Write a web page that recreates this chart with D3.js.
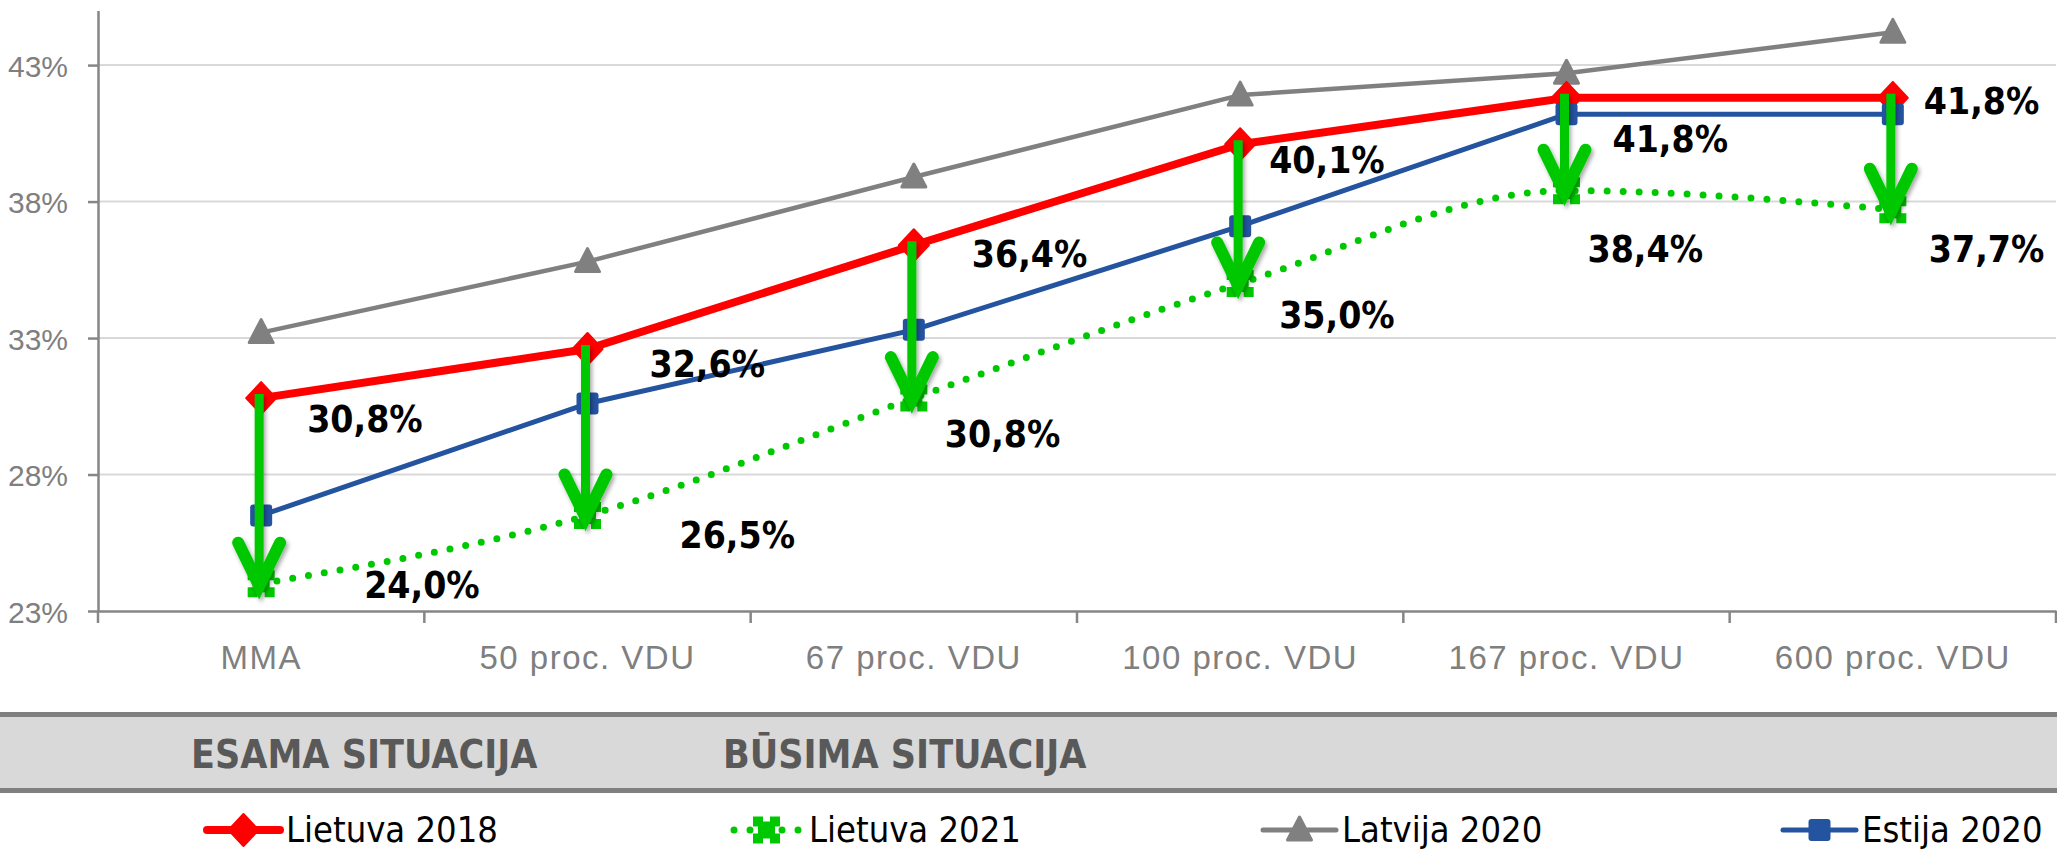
<!DOCTYPE html>
<html>
<head>
<meta charset="utf-8">
<script src="https://cdnjs.cloudflare.com/ajax/libs/d3/7.8.5/d3.min.js"></script>
<style>
  body { margin: 0; background: #fff; }
  svg { display: block; }
  .tick-lbl { font-family: "Liberation Sans", Arial, sans-serif; fill: #7f7f7f; }
  .val { font-family: "DejaVu Sans Condensed", "DejaVu Sans", sans-serif; font-stretch: condensed; font-weight: bold; fill: #000; }
  .leg { font-family: "DejaVu Sans Condensed", "DejaVu Sans", sans-serif; font-stretch: condensed; fill: #000; }
  .sit { font-family: "DejaVu Sans Condensed", "DejaVu Sans", sans-serif; font-stretch: condensed; font-weight: bold; fill: #595959; }
</style>
</head>
<body>
<div id="chart"></div>
<script>
// data
const categories = ["MMA", "50 proc. VDU", "67 proc. VDU", "100 proc. VDU", "167 proc. VDU", "600 proc. VDU"];
const lietuva2018 = [30.8, 32.6, 36.4, 40.1, 41.8, 41.8];
const lietuva2021 = [24.0, 26.5, 30.8, 35.0, 38.4, 37.7];
const latvija2020 = [33.2, 35.8, 38.9, 41.9, 42.7, 44.2];
const estija2020 = [26.5, 30.6, 33.3, 37.1, 41.2, 41.2];
const yTicks = [23, 28, 33, 38, 43];
const seriesNames = ["Lietuva 2018", "Lietuva 2021", "Latvija 2020", "Estija 2020"];
const situationLabels = ["ESAMA SITUACIJA", "BŪSIMA SITUACIJA"];

// hand placed label nudges (dx, dy from the point)
const redShift = [[46, 34], [62, 28], [58, 22], [29, 29], [46, 54], [31, 16]];
const greenShift = [[103, 14], [92, 33], [31, 49], [39, 45], [21, 71], [36, 52]];

const W = 2057, H = 849;
const RED = "#ff0000", GREEN = "#00c800", GREY = "#808080", BLUE = "#2453a0";

const svg = d3.select("#chart").append("svg")
  .attr("width", W)
  .attr("height", H);

const defs = svg.append("defs");
const f = defs.append("filter").attr("id", "shadow")
  .attr("x", "-50%").attr("y", "-20%").attr("width", "200%").attr("height", "140%");
f.append("feDropShadow").attr("dx", 2).attr("dy", 3).attr("stdDeviation", 2)
  .attr("flood-color", "#000").attr("flood-opacity", 0.35);

const x = d3.scaleBand().domain(categories).range([98, 2056]);
const y = d3.scaleLinear().domain([23, 45]).range([611, 10.5]);
const cx = c => x(c) + x.bandwidth() / 2;

// gridlines
svg.append("g").selectAll("line")
  .data(yTicks.slice(1))
  .join("line")
  .attr("x1", 98).attr("x2", 2056)
  .attr("y1", d => y(d)).attr("y2", d => y(d))
  .attr("stroke", "#d9d9d9").attr("stroke-width", 2);

// y axis
const yAxis = d3.axisLeft(y)
  .tickValues(yTicks)
  .tickSize(10)
  .tickSizeOuter(0)
  .tickPadding(20)
  .tickFormat(d => d + "%");
const gy = svg.append("g").attr("transform", "translate(98,0)").call(yAxis);
gy.selectAll("path, line").attr("stroke", "#868686").attr("stroke-width", 2.5);
gy.selectAll("text").attr("class", "tick-lbl").attr("font-size", 30).attr("dy", "0.37em");

// x axis (ticks sit between categories)
const xAxis = d3.axisBottom(x).tickSize(0).tickSizeOuter(0);
const gx = svg.append("g").attr("transform", "translate(0,611)").call(xAxis);
gx.select(".domain").attr("stroke", "#868686").attr("stroke-width", 2.5);
gx.selectAll("text").attr("class", "tick-lbl").attr("font-size", 33)
  .attr("letter-spacing", 1.5).attr("y", 58).attr("dy", 0);
gx.selectAll(".edge")
  .data(categories.map(c => x(c)).concat([x.range()[1]]))
  .join("line")
  .attr("class", "edge")
  .attr("x1", d => d).attr("x2", d => d)
  .attr("y1", 0).attr("y2", 12)
  .attr("stroke", "#868686").attr("stroke-width", 2.5);

const line = d3.line().x((d, i) => cx(categories[i])).y(d => y(d));
const smooth = d3.line().x((d, i) => cx(categories[i])).y(d => y(d)).curve(d3.curveMonotoneX);

// notched square used for the Lietuva 2021 marker
const notched = (s, n, k) => [
  [-s, -s], [-n, -s], [-n, -s + k], [n, -s + k], [n, -s], [s, -s],
  [s, -n], [s - k, -n], [s - k, n], [s, n], [s, s],
  [n, s], [n, s - k], [-n, s - k], [-n, s], [-s, s],
  [-s, n], [-s + k, n], [-s + k, -n], [-s, -n]
];

const markers = {
  triangle: g => g.append("path").attr("d", "M0,-13L12,10L-12,10Z")
    .attr("fill", GREY).attr("stroke", GREY).attr("stroke-width", 3).attr("stroke-linejoin", "round"),
  diamond: g => g.append("path").attr("d", "M0,-16L15,0L0,16L-15,0Z")
    .attr("fill", RED).attr("stroke", RED).attr("stroke-width", 2).attr("stroke-linejoin", "round"),
  square: g => g.append("rect").attr("x", -11).attr("y", -11).attr("width", 22).attr("height", 22).attr("rx", 3)
    .attr("fill", BLUE),
  cross: g => g.append("path").attr("d", "M" + notched(13.5, 3.5, 5).join("L") + "Z")
    .attr("fill", GREEN)
};

function drawSeries(values, color, width, shape, opts = {}) {
  const g = svg.append("g");
  const p = g.append("path").datum(values)
    .attr("d", opts.smooth ? smooth : line)
    .attr("fill", "none")
    .attr("stroke", color)
    .attr("stroke-width", width)
    .attr("stroke-linejoin", "round");
  if (opts.dotted) p.attr("stroke-dasharray", "0,16").attr("stroke-linecap", "round");
  values.forEach((v, i) => {
    markers[shape](g.append("g").attr("transform", `translate(${cx(categories[i])},${y(v)})`));
  });
}

drawSeries(latvija2020, GREY, 4.5, "triangle");
drawSeries(lietuva2018, RED, 8, "diamond");
drawSeries(estija2020, BLUE, 5, "square");
drawSeries(lietuva2021, GREEN, 7, "cross", { smooth: true, dotted: true });

// arrows from current to future
const arrows = svg.append("g").attr("filter", "url(#shadow)");
categories.forEach((c, i) => {
  const ax = cx(c) - 2;
  const y0 = y(lietuva2018[i]) - 4;
  const tip = y(lietuva2021[i]) + 2;
  arrows.append("line")
    .attr("x1", ax).attr("x2", ax).attr("y1", y0).attr("y2", tip - 4)
    .attr("stroke", GREEN).attr("stroke-width", 9);
  arrows.append("path")
    .attr("d", `M${ax - 21},${tip - 43}L${ax},${tip}L${ax + 21},${tip - 43}`)
    .attr("fill", "none").attr("stroke", GREEN).attr("stroke-width", 12)
    .attr("stroke-linecap", "round").attr("stroke-linejoin", "miter");
});

// value labels
const fmt = v => d3.format(".1f")(v).replace(".", ",") + "%";
const labels = svg.append("g");
lietuva2018.forEach((v, i) => {
  labels.append("text").attr("class", "val").attr("font-size", 37)
    .attr("x", cx(categories[i]) + redShift[i][0]).attr("y", y(v) + redShift[i][1])
    .text(fmt(v));
});
lietuva2021.forEach((v, i) => {
  labels.append("text").attr("class", "val").attr("font-size", 37)
    .attr("x", cx(categories[i]) + greenShift[i][0]).attr("y", y(v) + greenShift[i][1])
    .text(fmt(v));
});

// grey band with situation titles
svg.append("rect").attr("x", 0).attr("y", 712).attr("width", W).attr("height", 81).attr("fill", GREY);
svg.append("rect").attr("x", 0).attr("y", 717).attr("width", W).attr("height", 71).attr("fill", "#d9d9d9");
const sitX = [191, 723];
situationLabels.forEach((t, i) => {
  svg.append("text").attr("class", "sit").attr("font-size", 39)
    .attr("x", sitX[i]).attr("y", 768).text(t);
});

// legend
const legX = [207, 730, 1263, 1783];
const legStyle = [
  { color: RED, width: 8, shape: "diamond" },
  { color: GREEN, width: 7, shape: "cross", dotted: true },
  { color: GREY, width: 5, shape: "triangle" },
  { color: BLUE, width: 5, shape: "square" }
];
seriesNames.forEach((name, i) => {
  const s = legStyle[i];
  const g = svg.append("g").attr("transform", `translate(${legX[i]},830)`);
  const l = g.append("line").attr("x1", 0).attr("x2", 73).attr("y1", 0).attr("y2", 0)
    .attr("stroke", s.color).attr("stroke-width", s.width).attr("stroke-linecap", "round");
  if (s.dotted) l.attr("stroke-dasharray", "0,16").attr("x1", 4);
  markers[s.shape](g.append("g").attr("transform", "translate(36.5,0)"));
  g.append("text").attr("class", "leg").attr("font-size", 36)
    .attr("x", 79).attr("y", 12).text(name);
});
</script>
</body>
</html>
